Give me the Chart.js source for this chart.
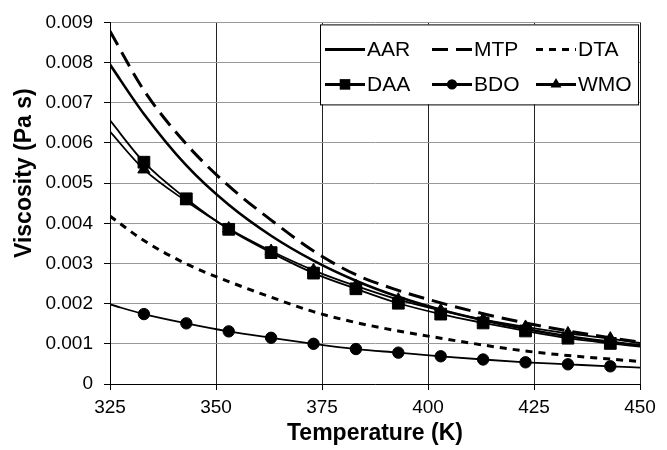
<!DOCTYPE html>
<html lang="en">
<head>
  <meta charset="UTF-8">
  <title>Viscosity vs Temperature</title>
  <script src="https://cdn.jsdelivr.net/npm/chart.js"></script>
  <style>
    body {
      margin: 0;
      background-color: #fff;
    }

    #chartBox {
      width: 667px;
      height: 450px;
    }
  </style>
</head>
<body>

<div id="chartBox">
  <canvas id="viscosityChart" width="667" height="450"></canvas>
</div>

<script>
  // temperatures (K) where values were read; markers sit on 333..443
  var temps = [325, 333, 343, 353, 363, 373, 383, 393, 403, 413, 423, 433, 443, 450];

  // viscosity (Pa s)
  var aar = [0.00795, 0.00672, 0.00544, 0.00446, 0.00369, 0.00307, 0.00257, 0.00217, 0.00185, 0.00159, 0.00137, 0.00119, 0.00105, 0.00096];
  var mtp = [0.00878, 0.00731, 0.00597, 0.00493, 0.00408, 0.00331, 0.00272, 0.00233, 0.00202, 0.00175, 0.00152, 0.00132, 0.00115, 0.00104];
  var dta = [0.00418, 0.00357, 0.00299, 0.00255, 0.00216, 0.00180, 0.00153, 0.00132, 0.00114, 0.00097, 0.00082, 0.00071, 0.00062, 0.00056];
  var daa = [0.00656, 0.00552, 0.00461, 0.00385, 0.00327, 0.00276, 0.00237, 0.00201, 0.00174, 0.00152, 0.00132, 0.00114, 0.00101, 0.00093];
  var bdo = [0.00198, 0.00174, 0.00151, 0.00131, 0.00115, 0.00100, 0.00087, 0.00078, 0.00069, 0.00061, 0.00054, 0.00049, 0.00044, 0.00041];
  var wmo = [0.00628, 0.00534, 0.00455, 0.00387, 0.00331, 0.00283, 0.00244, 0.00210, 0.00183, 0.00160, 0.00142, 0.00126, 0.00113, 0.00102];

  var xTicks = [325, 350, 375, 400, 425, 450];
  var yTicks = [0, 0.001, 0.002, 0.003, 0.004, 0.005, 0.006, 0.007, 0.008, 0.009];
  var yTickLabels = ['0', '0.001', '0.002', '0.003', '0.004', '0.005', '0.006', '0.007', '0.008', '0.009'];

  var FONT = "'Liberation Sans', Arial, sans-serif";

  function pts(values) {
    return temps.map(function (t, i) { return {x: t, y: values[i]}; });
  }

  // no marker on the two end points of each curve
  function markerRadius(r) {
    return function (ctx) {
      return (ctx.dataIndex === 0 || ctx.dataIndex === temps.length - 1) ? 0 : r;
    };
  }

  function series(label, values, opts) {
    var ds = {
      label: label,
      data: pts(values),
      borderColor: '#000',
      backgroundColor: '#000',
      pointBackgroundColor: '#000',
      pointBorderColor: '#000',
      pointBorderWidth: 1,
      pointRadius: 0,
      pointHoverRadius: 0,
      fill: false,
      cubicInterpolationMode: 'monotone'
    };
    for (var k in opts) ds[k] = opts[k];
    return ds;
  }

  var markerSize = {rect: 8.3, circle: 5.7, triangle: 7};

  var datasets = [
    series('AAR', aar, {borderWidth: 2.6}),
    series('MTP', mtp, {borderWidth: 3, borderDash: [16, 8]}),
    series('DTA', dta, {borderWidth: 3, borderDash: [7, 6]}),
    series('DAA', daa, {borderWidth: 1.8, pointStyle: 'rect', pointRadius: markerRadius(markerSize.rect)}),
    series('BDO', bdo, {borderWidth: 1.8, pointStyle: 'circle', pointRadius: markerRadius(markerSize.circle)}),
    series('WMO', wmo, {borderWidth: 1.8, pointStyle: 'triangle', pointRadius: markerRadius(markerSize.triangle)})
  ];

  function drawMarker(ctx, style, x, y, r) {
    ctx.beginPath();
    if (style === 'rect') {
      var s = Math.SQRT1_2 * r;
      ctx.rect(x - s, y - s, 2 * s, 2 * s);
    } else if (style === 'circle') {
      ctx.arc(x, y, r, 0, Math.PI * 2);
    } else if (style === 'triangle') {
      for (var i = 0; i < 3; i++) {
        var a = i * 2 * Math.PI / 3;
        var px = x + Math.sin(a) * r, py = y - Math.cos(a) * r;
        if (i === 0) ctx.moveTo(px, py); else ctx.lineTo(px, py);
      }
      ctx.closePath();
    }
    ctx.fill();
  }

  // boxed legend, 3 columns x 2 rows, top right inside the plot
  var boxLegend = {
    id: 'boxLegend',
    afterDatasetsDraw: function (chart) {
      var ctx = chart.ctx;
      var area = chart.chartArea;
      var w = 318, h = 80;
      var left = area.right - w - 2, top = area.top + 2;
      var colX = [5, 112, 216];
      var rowY = [25, 60];
      var lineLen = 40;

      ctx.save();
      ctx.fillStyle = '#fff';
      ctx.fillRect(left, top, w, h);
      ctx.strokeStyle = '#000';
      ctx.lineWidth = 1;
      ctx.strokeRect(left + 0.5, top + 0.5, w, h);

      ctx.font = '21px ' + FONT;
      ctx.textBaseline = 'middle';
      ctx.textAlign = 'left';

      chart.data.datasets.forEach(function (ds, i) {
        var x0 = left + colX[i % 3];
        var y0 = top + rowY[Math.floor(i / 3)];
        ctx.strokeStyle = '#000';
        ctx.lineWidth = 3;
        ctx.setLineDash(ds.borderDash || []);
        ctx.beginPath();
        ctx.moveTo(x0, y0);
        ctx.lineTo(x0 + lineLen, y0);
        ctx.stroke();
        ctx.setLineDash([]);
        if (ds.pointStyle) {
          ctx.fillStyle = '#000';
          drawMarker(ctx, ds.pointStyle, x0 + lineLen / 2, y0, markerSize[ds.pointStyle] * 0.9);
        }
        ctx.fillStyle = '#000';
        ctx.fillText(ds.label, x0 + lineLen + 2, y0 + 1);
      });
      ctx.restore();
    }
  };

  // y axis title sits a bit above the middle of the axis, as in the original
  var yTitle = {
    id: 'yTitle',
    afterDraw: function (chart) {
      var ctx = chart.ctx;
      var area = chart.chartArea;
      ctx.save();
      ctx.translate(25, (area.top + area.bottom) / 2 - 30);
      ctx.rotate(-Math.PI / 2);
      ctx.font = 'bold 23px ' + FONT;
      ctx.fillStyle = '#000';
      ctx.textAlign = 'center';
      ctx.textBaseline = 'middle';
      ctx.fillText('Viscosity (Pa s)', 0, 0);
      ctx.restore();
    }
  };

  var chartCtx = document.getElementById('viscosityChart').getContext('2d');

  var viscosityChart = new Chart(chartCtx, {
    type: 'line',
    data: {datasets: datasets},
    plugins: [boxLegend, yTitle],
    options: {
      responsive: false,
      animation: false,
      events: [],
      layout: {
        padding: {left: 0, right: 27, top: 15, bottom: 0}
      },
      scales: {
        x: {
          type: 'linear',
          min: 325,
          max: 450,
          afterBuildTicks: function (scale) {
            scale.ticks = xTicks.map(function (v) { return {value: v}; });
          },
          afterFit: function (scale) { scale.height = 66; },
          grid: {
            color: '#222',
            lineWidth: 1,
            drawTicks: true,
            tickLength: 6,
            tickColor: '#000'
          },
          border: {color: '#000', width: 1},
          ticks: {
            color: '#000',
            padding: 6,
            maxRotation: 0,
            font: {family: FONT, size: 19}
          },
          title: {
            display: true,
            text: 'Temperature (K)',
            color: '#000',
            padding: {top: 0, bottom: 3},
            font: {family: FONT, size: 23, weight: 'bold'}
          }
        },
        y: {
          type: 'linear',
          min: 0,
          max: 0.009,
          afterBuildTicks: function (scale) {
            scale.ticks = yTicks.map(function (v) { return {value: v}; });
          },
          afterFit: function (scale) { scale.width = 110; },
          grid: {
            color: '#999',
            lineWidth: 1,
            drawTicks: true,
            tickLength: 6,
            tickColor: '#000'
          },
          border: {color: '#000', width: 1},
          ticks: {
            color: '#000',
            padding: 11,
            font: {family: FONT, size: 19},
            callback: function (value, index) { return yTickLabels[index]; }
          },
          title: {display: false}
        }
      },
      plugins: {
        legend: {display: false},
        tooltip: {enabled: false}
      }
    }
  });
</script>

</body>
</html>
